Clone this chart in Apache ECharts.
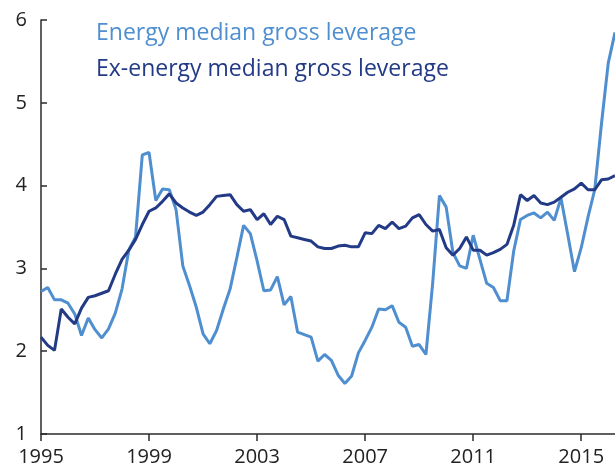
<!DOCTYPE html>
<html>
<head>
<meta charset="utf-8">
<script src="https://cdn.jsdelivr.net/npm/echarts@6/dist/echarts.min.js"></script>
<style>
  html, body { margin: 0; padding: 0; background: #fff; }
  #chart { width: 615px; height: 472px; }
</style>
</head>
<body>
<div id="chart"></div>
<script>
// quarterly, 1995Q1 .. 2016Q2
var years = [1995, 1996, 1997, 1998, 1999, 2000, 2001, 2002, 2003, 2004, 2005,
             2006, 2007, 2008, 2009, 2010, 2011, 2012, 2013, 2014, 2015, 2016];
var quarters = [];
for (var y = 0; y < years.length; y++) {
    for (var q = 1; q <= 4; q++) {
        if (years[y] == 2016 && q > 2) break;
        quarters.push(years[y] + 'Q' + q);
    }
}

var energyLeverage = [
    2.72, 2.77, 2.62, 2.62, 2.58, 2.45, 2.19, 2.40, 2.26, 2.16,
    2.27, 2.46, 2.75, 3.22, 3.38, 4.37, 4.40, 3.82, 3.96, 3.95,
    3.71, 3.03, 2.79, 2.53, 2.21, 2.09, 2.25, 2.51, 2.75, 3.13,
    3.52, 3.42, 3.09, 2.73, 2.74, 2.90, 2.56, 2.66, 2.23, 2.20,
    2.17, 1.88, 1.96, 1.89, 1.71, 1.61, 1.70, 1.98, 2.13, 2.29,
    2.51, 2.50, 2.55, 2.35, 2.29, 2.06, 2.08, 1.96, 2.82, 3.88,
    3.74, 3.19, 3.03, 3.00, 3.40, 3.11, 2.82, 2.77, 2.61, 2.61,
    3.21, 3.59, 3.64, 3.67, 3.61, 3.68, 3.58, 3.85, 3.41, 2.96,
    3.25, 3.62, 3.95, 4.75, 5.48, 5.85
];
var exEnergyLeverage = [
    2.17, 2.07, 2.01, 2.51, 2.41, 2.33, 2.52, 2.65, 2.67, 2.70,
    2.73, 2.93, 3.11, 3.22, 3.35, 3.53, 3.69, 3.73, 3.81, 3.90,
    3.79, 3.73, 3.68, 3.64, 3.68, 3.77, 3.87, 3.88, 3.89, 3.77,
    3.69, 3.71, 3.59, 3.66, 3.53, 3.63, 3.59, 3.39, 3.37, 3.35,
    3.33, 3.26, 3.24, 3.24, 3.27, 3.28, 3.26, 3.26, 3.43, 3.42,
    3.52, 3.48, 3.56, 3.48, 3.51, 3.61, 3.65, 3.53, 3.45, 3.47,
    3.25, 3.16, 3.24, 3.38, 3.22, 3.22, 3.16, 3.19, 3.23, 3.29,
    3.52, 3.89, 3.82, 3.88, 3.79, 3.77, 3.80, 3.86, 3.92, 3.96,
    4.03, 3.95, 3.95, 4.07, 4.08, 4.12
];

var energyName = 'Energy median gross leverage';
var exEnergyName = 'Ex-energy median gross leverage';
var lightBlue = '#4f8fd0';
var darkBlue = '#233a86';
var axisColor = '#2b2b2b';
var font = 'Open Sans';

var myChart = echarts.init(document.getElementById('chart'));

var option = {
    animation: false,
    grid: { left: 41, right: 0, top: 20, bottom: 38 },
    legend: {
        left: 86,
        top: 15,
        orient: 'vertical',
        icon: 'none',
        itemWidth: 0,
        itemHeight: 0,
        itemGap: 10,
        selectedMode: false,
        data: [
            { name: energyName, textStyle: { color: lightBlue } },
            { name: exEnergyName, textStyle: { color: darkBlue } }
        ],
        textStyle: { fontFamily: font, fontSize: 23, lineHeight: 26 }
    },
    xAxis: {
        type: 'category',
        data: quarters,
        boundaryGap: false,
        axisLine: { lineStyle: { color: axisColor, width: 1.5 } },
        axisTick: { interval: 15, length: 7, lineStyle: { color: axisColor, width: 1.5 } },
        axisLabel: {
            interval: 15,
            margin: 13,
            color: '#222',
            fontFamily: font,
            fontSize: 20,
            align: 'center',
            alignMinLabel: 'center',
            hideOverlap: false,
            formatter: function (v) { return v.slice(0, 4); }
        },
        splitLine: { show: false }
    },
    yAxis: {
        type: 'value',
        min: 1,
        max: 6,
        interval: 1,
        axisLine: { show: true, lineStyle: { color: axisColor, width: 1.5 } },
        axisTick: { show: true, inside: true, length: 6, lineStyle: { color: axisColor, width: 1.5 } },
        axisLabel: { margin: 14, color: '#222', fontFamily: font, fontSize: 20 },
        splitLine: { show: false }
    },
    series: [
        {
            name: energyName,
            type: 'line',
            data: energyLeverage,
            showSymbol: false,
            lineStyle: { color: lightBlue, width: 3 },
            itemStyle: { color: lightBlue }
        },
        {
            name: exEnergyName,
            type: 'line',
            data: exEnergyLeverage,
            showSymbol: false,
            lineStyle: { color: darkBlue, width: 3 },
            itemStyle: { color: darkBlue }
        }
    ]
};

myChart.setOption(option);
</script>
</body>
</html>
